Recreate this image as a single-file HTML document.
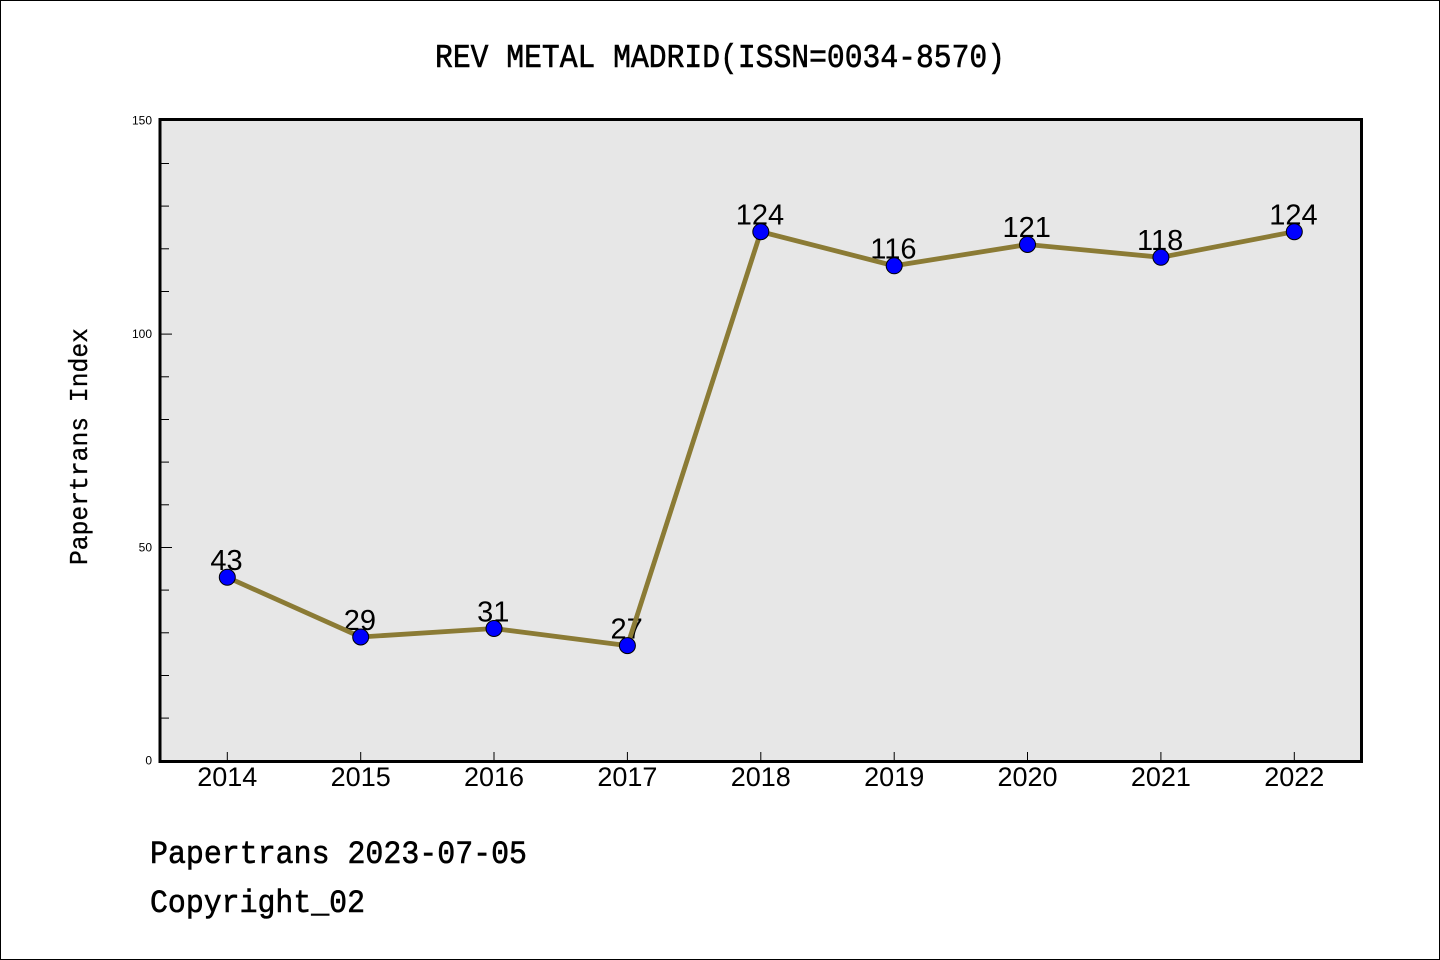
<!DOCTYPE html>
<html>
<head>
<meta charset="utf-8">
<style>
html,body{margin:0;padding:0;background:#fff;}
svg{display:block;}
</style>
</head>
<body>
<svg width="1440" height="960" viewBox="0 0 1440 960" xmlns="http://www.w3.org/2000/svg">
  <rect x="0.5" y="0.5" width="1439" height="959" fill="#fff" stroke="#000" stroke-width="1"/>
  <!-- title -->
  <text x="720" y="67" text-anchor="middle" font-family="Liberation Mono, monospace" font-size="33" textLength="570" lengthAdjust="spacingAndGlyphs" fill="#000" stroke="#000" stroke-width="0.6">REV METAL MADRID(ISSN=0034-8570)</text>
  <!-- plot bg -->
  <rect x="160" y="119.5" width="1201.5" height="642" fill="#e7e7e7" stroke="none"/>
  <!-- y ticks -->
  <g stroke="#000" stroke-width="1">
    <line x1="161" y1="718.1" x2="169" y2="718.1"/>
    <line x1="161" y1="675.5" x2="169" y2="675.5"/>
    <line x1="161" y1="632.8" x2="169" y2="632.8"/>
    <line x1="161" y1="590.1" x2="169" y2="590.1"/>
    <line x1="161" y1="547.5" x2="172" y2="547.5"/>
    <line x1="161" y1="504.8" x2="169" y2="504.8"/>
    <line x1="161" y1="462.1" x2="169" y2="462.1"/>
    <line x1="161" y1="419.5" x2="169" y2="419.5"/>
    <line x1="161" y1="376.8" x2="169" y2="376.8"/>
    <line x1="161" y1="334.1" x2="172" y2="334.1"/>
    <line x1="161" y1="291.5" x2="169" y2="291.5"/>
    <line x1="161" y1="248.8" x2="169" y2="248.8"/>
    <line x1="161" y1="206.1" x2="169" y2="206.1"/>
    <line x1="161" y1="163.5" x2="169" y2="163.5"/>
  </g>
  <!-- x ticks -->
  <g stroke="#000" stroke-width="1">
    <line x1="227.3" y1="752" x2="227.3" y2="760"/>
    <line x1="360.7" y1="752" x2="360.7" y2="760"/>
    <line x1="494.0" y1="752" x2="494.0" y2="760"/>
    <line x1="627.4" y1="752" x2="627.4" y2="760"/>
    <line x1="760.8" y1="752" x2="760.8" y2="760"/>
    <line x1="894.2" y1="752" x2="894.2" y2="760"/>
    <line x1="1027.5" y1="752" x2="1027.5" y2="760"/>
    <line x1="1160.9" y1="752" x2="1160.9" y2="760"/>
    <line x1="1294.3" y1="752" x2="1294.3" y2="760"/>
  </g>
  <!-- frame -->
  <rect x="160" y="119.5" width="1201.5" height="642" fill="none" stroke="#000" stroke-width="3"/>
  <!-- y tick labels -->
  <g font-family="Liberation Sans, sans-serif" font-size="12" fill="#000" text-anchor="end">
    <text x="152" y="124.5">150</text>
    <text x="152" y="338">100</text>
    <text x="152" y="551.5">50</text>
    <text x="152" y="764.5">0</text>
  </g>
  <!-- x tick labels -->
  <g font-family="Liberation Sans, sans-serif" font-size="27" fill="#000" text-anchor="middle">
    <text x="227.3" y="786">2014</text>
    <text x="360.7" y="786">2015</text>
    <text x="494.0" y="786">2016</text>
    <text x="627.4" y="786">2017</text>
    <text x="760.8" y="786">2018</text>
    <text x="894.2" y="786">2019</text>
    <text x="1027.5" y="786">2020</text>
    <text x="1160.9" y="786">2021</text>
    <text x="1294.3" y="786">2022</text>
  </g>
  <!-- y axis label -->
  <text transform="translate(87,446.5) rotate(-90)" text-anchor="middle" font-family="Liberation Mono, monospace" font-size="26" textLength="237" lengthAdjust="spacingAndGlyphs" fill="#000" stroke="#000" stroke-width="0.3">Papertrans Index</text>
  <!-- data labels -->
  <g font-family="Liberation Sans, sans-serif" font-size="29" fill="#000" text-anchor="middle">
    <text x="226.5" y="570">43</text>
    <text x="359.9" y="630">29</text>
    <text x="493.2" y="621.5">31</text>
    <text x="626.6" y="638.5">27</text>
    <text x="760" y="224.5">124</text>
    <text x="893.4" y="258.5">116</text>
    <text x="1026.7" y="237">121</text>
    <text x="1160.1" y="250">118</text>
    <text x="1293.5" y="224.5">124</text>
  </g>
  <!-- line -->
  <polyline fill="none" stroke="#8b7b35" stroke-width="4.8" stroke-linejoin="miter"
    points="227.3,577.3 360.7,637.0 494.0,628.5 627.4,645.6 760.8,231.7 894.2,265.8 1027.5,244.5 1160.9,257.3 1294.3,231.7"/>
  <!-- markers -->
  <g fill="#0000ff" stroke="#000" stroke-width="1">
    <circle cx="227.3" cy="577.3" r="8"/>
    <circle cx="360.7" cy="637.0" r="8"/>
    <circle cx="494.0" cy="628.5" r="8"/>
    <circle cx="627.4" cy="645.6" r="8"/>
    <circle cx="760.8" cy="231.7" r="8"/>
    <circle cx="894.2" cy="265.8" r="8"/>
    <circle cx="1027.5" cy="244.5" r="8"/>
    <circle cx="1160.9" cy="257.3" r="8"/>
    <circle cx="1294.3" cy="231.7" r="8"/>
  </g>
  <!-- footer -->
  <text x="150" y="863" font-family="Liberation Mono, monospace" font-size="32" textLength="377" lengthAdjust="spacingAndGlyphs" fill="#000" stroke="#000" stroke-width="0.6">Papertrans 2023-07-05</text>
  <text x="150" y="912" font-family="Liberation Mono, monospace" font-size="32" textLength="215" lengthAdjust="spacingAndGlyphs" fill="#000" stroke="#000" stroke-width="0.6">Copyright_02</text>
</svg>
</body>
</html>
